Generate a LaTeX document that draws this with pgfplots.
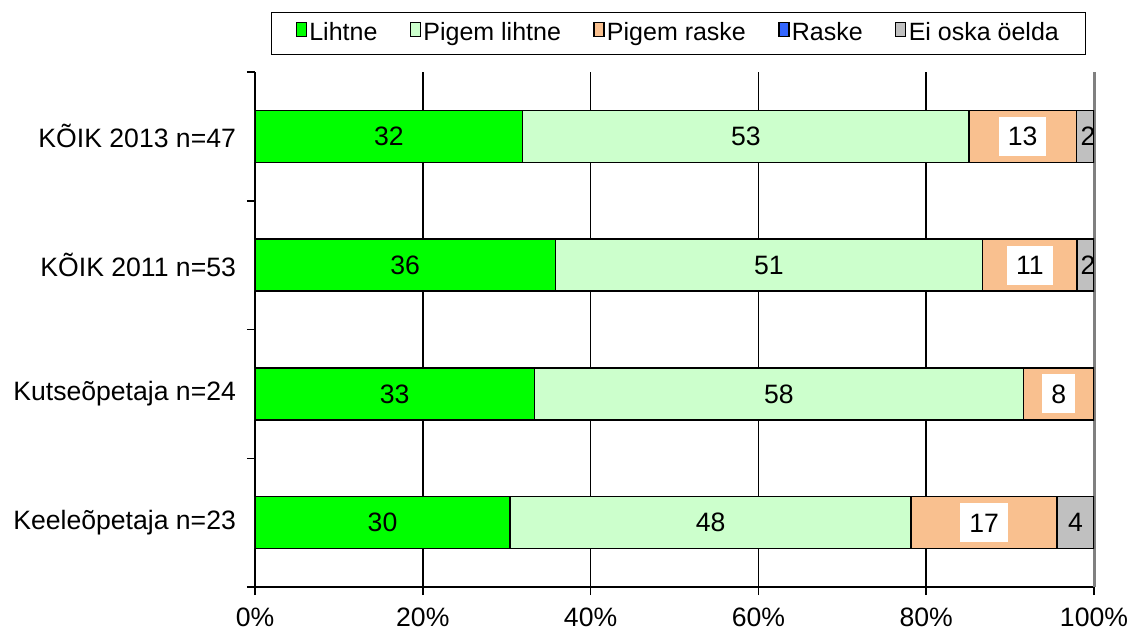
\documentclass[border=0pt]{standalone}
\usepackage{pgfplots}
\pgfplotsset{compat=1.18}
\usepackage{pgfplotstable}
\usepackage{fontspec}
\setmainfont{Liberation Sans}
\definecolor{cLiht}{HTML}{00FF00}
\definecolor{cPlih}{HTML}{CCFFCC}
\definecolor{cPras}{HTML}{F9C08F}
\definecolor{cRas}{HTML}{3366FF}
\definecolor{cEi}{HTML}{C0C0C0}
\definecolor{cBorder}{HTML}{808080}

\pgfplotstableread{
y lihtne pigemlihtne pigemraske raske ei
0 30.4 47.8 17.4 0 4.4
1 33.3 58.3 8.4 0 0
2 35.8 50.9 11.3 0 2.0
3 31.9 53.2 12.8 0 2.1
}\data

\pgfplotstableread{
x y lab
15.2 0 30
54.3 0 48
97.8 0 4
16.65 1 33
62.45 1 58
17.9 2 36
61.25 2 51
99.3 2 2
15.95 3 32
58.5 3 53
99.3 3 2
}\plainlabels

\pgfplotstableread{
x y lab
86.9 0 17
95.8 1 8
92.35 2 11
91.5 3 13
}\boxlabels

\pgfplotsset{
  mylegend/.style={legend image code/.code={\draw[##1,draw=black,line width=0.6pt] (0pt,-1.5pt) rectangle (5pt,5.5pt);}},
}

\begin{document}
\begin{tikzpicture}
\useasboundingbox (-127.5pt,-23pt) rectangle (437.5pt,293.5pt);
\begin{axis}[
  name=main,
  at={(0pt,0pt)}, anchor=south west,
  scale only axis,
  width=419.5pt, height=257.5pt,
  xbar stacked,
  bar width=26pt,
  xmin=0, xmax=100,
  ymin=-0.5, ymax=3.5,
  axis x line=bottom, axis y line=left,
  axis line style={-, line width=1pt, black},
  xtick={0,20,40,60,80},
  extra x ticks={100},
  extra x tick style={grid style={cBorder, line width=1.5pt}},
  xticklabel={\pgfmathprintnumber{\tick}\%},
  xticklabel style={inner sep=0pt, yshift=-6.4pt},
  yticklabel style={xshift=-2pt},
  xmajorgrids,
  grid style={black, line width=0.75pt},
  ytick={0,1,2,3},
  yticklabels={Keeleõpetaja n=23, Kutseõpetaja n=24, KÕIK 2011 n=53, KÕIK 2013 n=47},
  minor ytick={-0.5,0.5,1.5,2.5,3.5},
  tick align=outside,
  major tick length=4pt, minor tick length=4pt,
  major y tick style={draw=none},
  tick style={black, line width=0.75pt},
  tick label style={font=\fontsize{13.3}{15}\selectfont},
  /pgf/number format/assume math mode=true,
  legend style={at={(0.5,1)}, anchor=south, yshift=8.5pt, xshift=2pt, legend columns=-1,
    draw=black, line width=0.75pt, font=\fontsize{12.5}{14}\selectfont,
    inner xsep=12pt, inner ysep=4pt,
    nodes={inner sep=1.2pt},
    /tikz/every even column/.append style={column sep=15pt}},
]
\addplot[fill=cLiht, draw=black, line width=0.75pt, mylegend] table[x=lihtne, y=y] {\data};
\addlegendentry{Lihtne}
\addplot[fill=cPlih, draw=black, line width=0.75pt, mylegend] table[x=pigemlihtne, y=y] {\data};
\addlegendentry{Pigem lihtne}
\addplot[fill=cPras, draw=black, line width=0.75pt, mylegend] table[x=pigemraske, y=y] {\data};
\addlegendentry{Pigem raske}
\addlegendimage{fill=cRas, mylegend}
\addlegendentry{Raske}
\addplot[fill=cEi, draw=black, line width=0.75pt, mylegend] table[x=ei, y=y] {\data};
\addlegendentry{Ei oska öelda}
\end{axis}
\begin{axis}[
  at={(0pt,0pt)}, anchor=south west,
  scale only axis,
  width=419.5pt, height=257.5pt,
  xmin=0, xmax=100, ymin=-0.5, ymax=3.5,
  hide axis, clip=false,
]
\addplot[only marks, mark=none, nodes near coords, point meta=explicit symbolic,
  every node near coord/.style={anchor=center, font=\fontsize{13.3}{15}\selectfont}]
  table[x=x, y=y, meta=lab] {\plainlabels};
\addplot[only marks, mark=none, nodes near coords, point meta=explicit symbolic,
  every node near coord/.style={anchor=center, fill=white, inner xsep=4.5pt, inner ysep=5pt,
    text height=9.5pt, text depth=0pt, font=\fontsize{13.3}{15}\selectfont}]
  table[x=x, y=y, meta=lab] {\boxlabels};
\end{axis}
\end{tikzpicture}
\end{document}
